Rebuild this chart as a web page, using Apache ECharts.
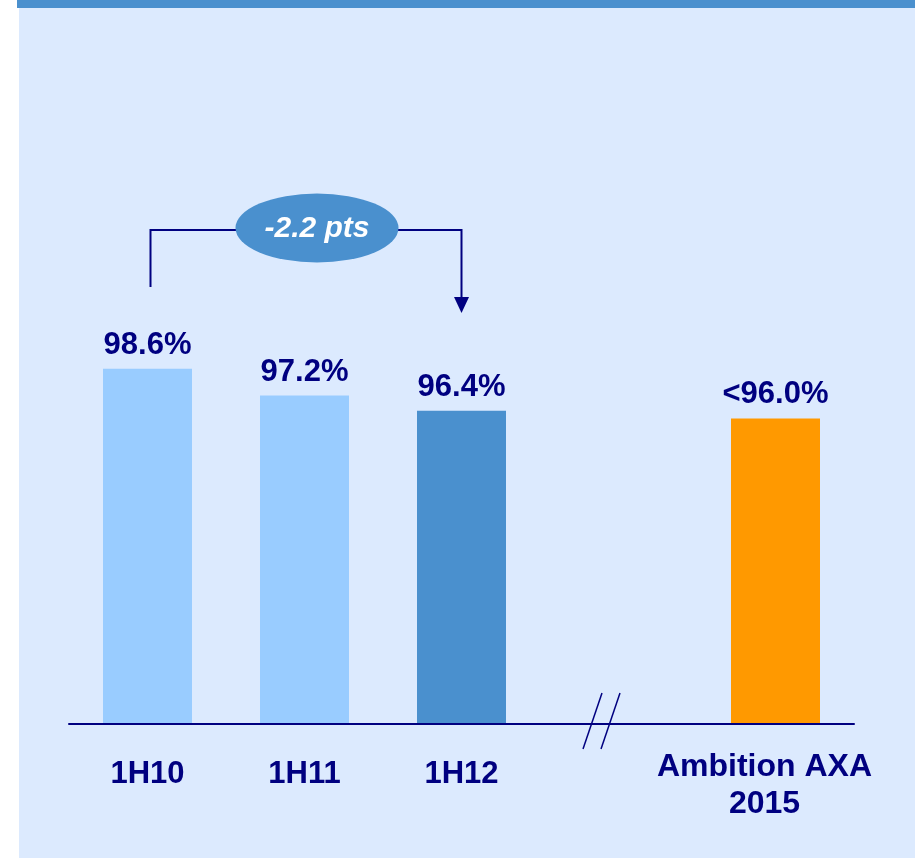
<!DOCTYPE html>
<html>
<head>
<meta charset="utf-8">
<script src="https://cdn.jsdelivr.net/npm/echarts@6/dist/echarts.min.js"></script>
<style>
  html, body { margin: 0; padding: 0; background: #ffffff; }
  #chart { width: 915px; height: 858px; }
</style>
</head>
<body>
<div id="chart"></div>
<script>
// Combined ratio by period; the empty slot holds the axis break before the 2015 target
const categories = ['1H10', '1H11', '1H12', '', 'Ambition AXA\n2015'];
const values = [98.6, 97.2, 96.4, null, 96.0];
const valueLabels = ['98.6%', '97.2%', '96.4%', '', '<96.0%'];
const barColors = ['#99CCFF', '#99CCFF', '#4A90CE', null, '#FF9900'];
const changeLabel = '-2.2 pts';

const NAVY = '#000080';
const FONT = '"Liberation Sans", Arial, sans-serif';

const chart = echarts.init(document.getElementById('chart'), null, { renderer: 'canvas' });

const seriesData = values.map((v, i) => v == null ? '-' : {
  value: v,
  itemStyle: { color: barColors[i] },
  label: { formatter: valueLabels[i] }
});

const axisData = categories.map(c => ({
  value: c,
  textStyle: c.indexOf('\n') >= 0
    ? { fontSize: 32, padding: [0, 22, 0, 0] }
    : { padding: [7, 0, 0, 0] }
}));

chart.setOption({
  animation: false,
  backgroundColor: '#ffffff',
  grid: { left: 69, right: 61, top: 342, bottom: 134, containLabel: false },
  xAxis: {
    type: 'category',
    data: axisData,
    axisLine: { show: true, lineStyle: { color: NAVY, width: 2 } },
    axisTick: { show: false },
    axisLabel: {
      color: NAVY, fontFamily: FONT, fontWeight: 'bold', fontSize: 31,
      lineHeight: 37, margin: 25, interval: 0
    },
    splitLine: { show: false },
    z: 5
  },
  yAxis: {
    type: 'value', min: 80, max: 100,
    show: false, splitLine: { show: false }
  },
  series: [{
    type: 'bar',
    data: seriesData,
    barWidth: 89,
    label: {
      show: true, position: 'top', distance: 8,
      color: NAVY, fontFamily: FONT, fontWeight: 'bold', fontSize: 31
    },
    z: 3
  }]
});

// Panel background, annotation bracket and axis break marks
function drawOverlay() {
  const p0 = chart.convertToPixel({ gridIndex: 0 }, [0, values[0]]);
  const p2 = chart.convertToPixel({ gridIndex: 0 }, [2, values[2]]);
  const p3 = chart.convertToPixel({ gridIndex: 0 }, [3, 80]);
  const leftX = p0[0] + 3;
  const rightX = p2[0];
  const bracketY = 230;
  const ellX = 317, ellY = 228, rx = 81.5, ry = 34.5;
  const breakX = p3[0] - 17.5, baseY = p3[1];

  chart.setOption({
    graphic: [
      { type: 'rect', z: -10, silent: true,
        shape: { x: 19, y: 8, width: 896, height: 850 },
        style: { fill: '#DCEAFE' } },
      { type: 'rect', z: -10, silent: true,
        shape: { x: 17, y: 0, width: 898, height: 8 },
        style: { fill: '#4A90CE' } },
      { type: 'polyline', z: 10, silent: true,
        shape: { points: [[leftX, 287], [leftX, bracketY], [rightX, bracketY], [rightX, 298]] },
        style: { stroke: NAVY, lineWidth: 2, fill: null } },
      { type: 'polygon', z: 10, silent: true,
        shape: { points: [[rightX - 7.5, 297], [rightX + 7.5, 297], [rightX, 313]] },
        style: { fill: NAVY } },
      { type: 'circle', z: 11, silent: true,
        x: ellX, y: ellY, scaleX: 1, scaleY: ry / rx,
        shape: { cx: 0, cy: 0, r: rx },
        style: { fill: '#4A90CE' } },
      { type: 'text', z: 12, silent: true,
        x: ellX, y: ellY + 1,
        style: {
          text: changeLabel, fill: '#ffffff', font: 'italic bold 30px ' + FONT,
          textAlign: 'center', textVerticalAlign: 'middle'
        } },
      { type: 'line', z: 10, silent: true,
        shape: { x1: breakX - 18, y1: baseY + 25, x2: breakX + 1, y2: baseY - 31 },
        style: { stroke: NAVY, lineWidth: 1.5 } },
      { type: 'line', z: 10, silent: true,
        shape: { x1: breakX, y1: baseY + 25, x2: breakX + 19, y2: baseY - 31 },
        style: { stroke: NAVY, lineWidth: 1.5 } }
    ]
  });
}
drawOverlay();
</script>
</body>
</html>
